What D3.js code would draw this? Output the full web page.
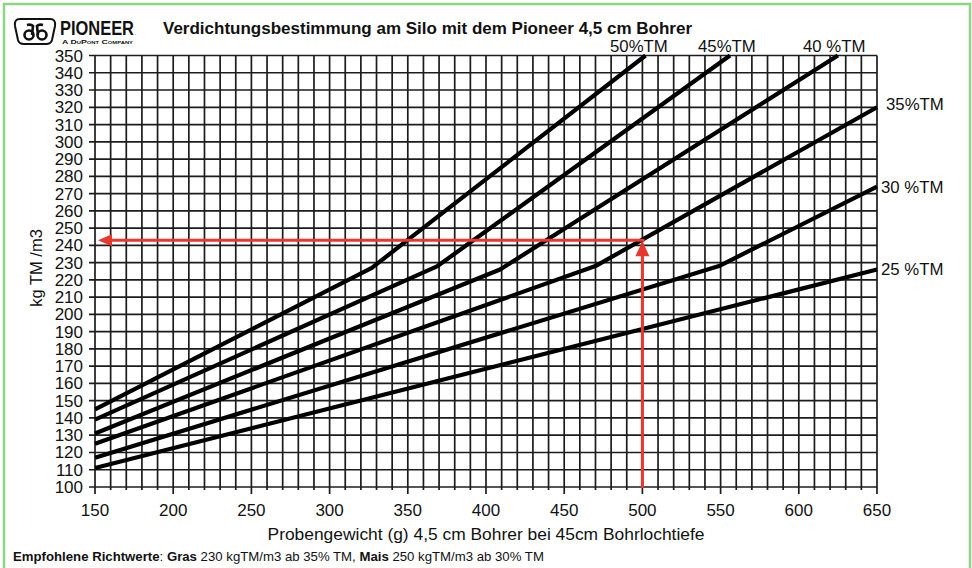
<!DOCTYPE html>
<head>
  <meta charset="utf-8">
  <title>Verdichtungsbestimmung am Silo</title>
  <script src="https://d3js.org/d3.v7.min.js"></script>
  <style>
    body { margin: 0; background: #fff; }
    text { font-family: "Liberation Sans", Arial, sans-serif; fill: #111; }
  </style>
</head>
<body>
<script>

  let width = 972;
  let height = 568;
  let margin = {top: 55.5, right: 96, bottom: 81, left: 95};

  // data: [Probengewicht g, kg TM/m3]
  let tm50 = [[150,145],[327,227],[502,350]];
  let tm45 = [[150,139],[369,228],[556,350]];
  let tm40 = [[150,131],[409,226],[625,350]];
  let tm35 = [[150,125],[470,228],[650,320]];
  let tm30 = [[150,117],[549,228],[650,274]];
  let tm25 = [[150,111],[650,226]];
  let series = [tm50, tm45, tm40, tm35, tm30, tm25];
  let series_labels = ["50%TM","45%TM","40 %TM","35%TM","30 %TM","25 %TM"];

  let x_ticks = [150,200,250,300,350,400,450,500,550,600,650];
  let y_ticks = [100,110,120,130,140,150,160,170,180,190,200,210,220,230,240,250,260,270,280,290,300,310,320,330,340,350];
  let x_grid = d3.range(150, 651, 10);

  // example reading (red arrows)
  let sample_weight = 500;
  let sample_density = 243;

  let svg = d3.select("body").append("svg")
      .attr("width", width)
      .attr("height", height);

  let x = d3.scaleLinear().domain([150,650]).range([margin.left, width - margin.right + 1]);
  let y = d3.scaleLinear().domain([100,350]).range([height - margin.bottom, margin.top]);

  // green frame
  svg.append("rect")
      .attr("x",4).attr("y",4)
      .attr("width",966).attr("height",570)
      .style("fill","none")
      .style("stroke","#8fd487")
      .style("stroke-width","2.5px");

  // grid
  let grid = svg.append("g").attr("id","grid");

  grid.selectAll("line.v")
      .data(x_grid)
      .enter()
      .append("line")
      .attr("class","v")
      .attr("x1", d => x(d)).attr("x2", d => x(d))
      .attr("y1", y(350))
      .attr("y2", d => (d % 50 === 0) ? y(100) + 7 : y(100) + 3)
      .style("stroke","#1c1c1c")
      .style("stroke-width","1.7px");

  grid.selectAll("line.h")
      .data(y_ticks)
      .enter()
      .append("line")
      .attr("class","h")
      .attr("x1", x(150) - 6).attr("x2", x(650))
      .attr("y1", d => y(d)).attr("y2", d => y(d))
      .style("stroke","#1c1c1c")
      .style("stroke-width","1.7px");

  // tick labels
  svg.append("g").selectAll("text")
      .data(y_ticks)
      .enter()
      .append("text")
      .attr("x", x(150) - 12)
      .attr("y", d => y(d) + 6)
      .attr("text-anchor","end")
      .style("font-size","17px")
      .text(d => d);

  svg.append("g").selectAll("text")
      .data(x_ticks)
      .enter()
      .append("text")
      .attr("x", d => x(d))
      .attr("y", y(100) + 29)
      .attr("text-anchor","middle")
      .style("font-size","17px")
      .text(d => d);

  // axis titles
  svg.append("text")
      .attr("transform","translate(" + 42 + "," + 268 + ") rotate(-90)")
      .attr("text-anchor","middle")
      .style("font-size","16.5px")
      .text("kg TM /m3");

  svg.append("text")
      .attr("x", 486)
      .attr("y", 540)
      .attr("text-anchor","middle")
      .style("font-size","17.4px")
      .text("Probengewicht (g) 4,5 cm Bohrer bei 45cm Bohrlochtiefe");

  // curves
  let line = d3.line()
      .x(d => x(d[0]))
      .y(d => y(d[1]));

  svg.append("g").selectAll("path")
      .data(series)
      .enter()
      .append("path")
      .attr("d", line)
      .style("fill","none")
      .style("stroke","#000")
      .style("stroke-width","4.2px")
      .style("stroke-linejoin","round");

  // curve labels
  let label_pos = [[610,51.5],[698,51.5],[803,51.5],[886,110],[881,193],[881,275]];
  svg.append("g").selectAll("text")
      .data(series_labels)
      .enter()
      .append("text")
      .attr("x", (d,i) => label_pos[i][0])
      .attr("y", (d,i) => label_pos[i][1])
      .style("font-size","16.8px")
      .text(d => d);

  // red arrows
  let red = "#e8372c";
  let arrows = svg.append("g").attr("id","arrows");

  arrows.append("line")
      .attr("x1", x(sample_weight)).attr("x2", x(sample_weight))
      .attr("y1", y(100) + 1).attr("y2", y(sample_density) + 12)
      .style("stroke",red).style("stroke-width","3px");

  arrows.append("path")
      .attr("d", "M" + x(sample_weight) + "," + (y(sample_density) + 1) +
                 "L" + (x(sample_weight) - 7) + "," + (y(sample_density) + 16) +
                 "L" + (x(sample_weight) + 7) + "," + (y(sample_density) + 16) + "Z")
      .style("fill",red);

  arrows.append("line")
      .attr("x1", x(sample_weight) + 2).attr("x2", x(150) + 14)
      .attr("y1", y(sample_density)).attr("y2", y(sample_density))
      .style("stroke",red).style("stroke-width","3px");

  arrows.append("path")
      .attr("d", "M" + (x(150) + 3) + "," + y(sample_density) +
                 "L" + (x(150) + 17) + "," + (y(sample_density) - 6) +
                 "L" + (x(150) + 17) + "," + (y(sample_density) + 6) + "Z")
      .style("fill",red);

  // logo
  let logo = svg.append("g").attr("id","logo");
  logo.append("path")
      .attr("d","M20,19 L50,19 Q56,19 55,26 L52,40 Q51,44 46,44 L24,44 Q19,44 18,40 L15,26 Q14,19 20,19 Z")
      .style("fill","none").style("stroke","#111").style("stroke-width","2px");
  logo.append("circle").attr("cx",29).attr("cy",35).attr("r",4.5)
      .style("fill","none").style("stroke","#111").style("stroke-width","2.6px");
  logo.append("circle").attr("cx",42).attr("cy",35).attr("r",4.5)
      .style("fill","none").style("stroke","#111").style("stroke-width","2.6px");
  logo.append("path").attr("d","M32,35 L33,26 Q31,24 27,25 M38,35 L37,26 Q39,24 43,25")
      .style("fill","none").style("stroke","#111").style("stroke-width","2.6px");
  logo.append("text")
      .attr("x",60).attr("y",35)
      .attr("textLength",74).attr("lengthAdjust","spacingAndGlyphs")
      .style("font-size","20px").style("font-weight","bold")
      .text("PIONEER");
  logo.append("text")
      .attr("x",135).attr("y",35)
      .style("font-size","5px")
      .text(".");
  logo.append("text")
      .attr("x",62).attr("y",44)
      .attr("textLength",71).attr("lengthAdjust","spacingAndGlyphs")
      .style("font-size","6px").style("font-weight","bold")
      .style("font-variant","small-caps")
      .text("A DuPont Company");

  // title
  svg.append("text")
      .attr("x",163).attr("y",34)
      .style("font-size","17px").style("font-weight","bold")
      .text("Verdichtungsbestimmung am Silo mit dem Pioneer 4,5 cm Bohrer");

  // footnote
  let note = svg.append("text")
      .attr("x",13).attr("y",561)
      .style("font-size","13.2px");
  note.append("tspan").style("font-weight","bold").text("Empfohlene Richtwerte");
  note.append("tspan").text(": ");
  note.append("tspan").style("font-weight","bold").text("Gras");
  note.append("tspan").text(" 230 kgTM/m3 ab 35% TM, ");
  note.append("tspan").style("font-weight","bold").text("Mais");
  note.append("tspan").text(" 250 kgTM/m3 ab 30% TM");

</script>
</body>
